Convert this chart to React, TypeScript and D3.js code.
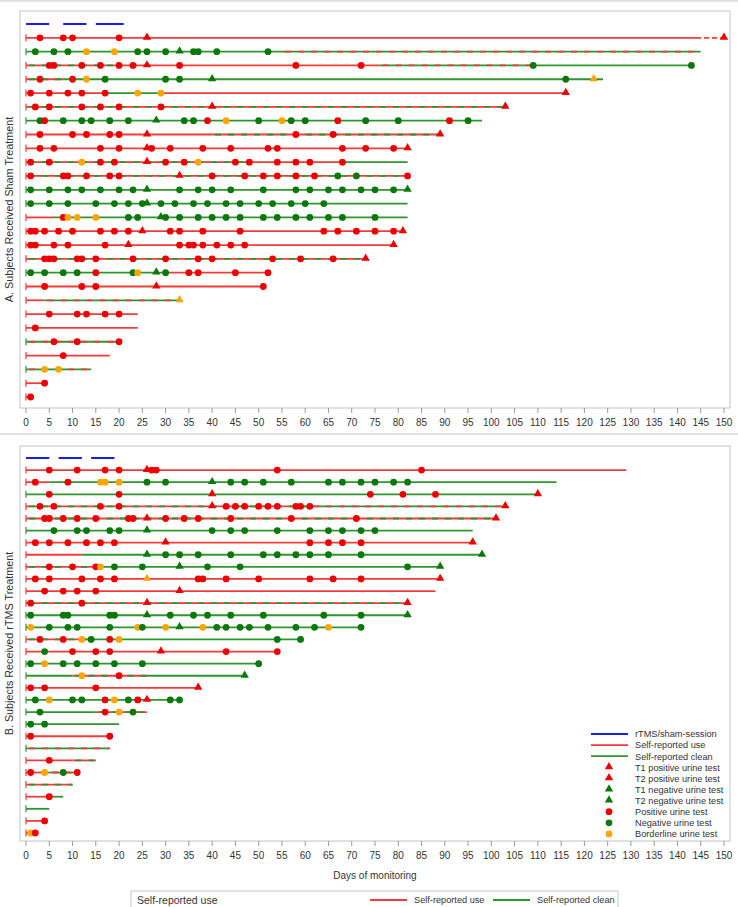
import * as d3 from "d3";

// rTMS / sham sessions (day ranges) drawn above the first subject
const shamSessions = [[0, 5], [8, 13], [15, 21]];
const rtmsSessions = [[0, 5], [7, 12], [14, 19]];

// line segments per subject: "from-to kind"  u=use, c=clean, m=clean w/ use dashes, n=use w/ clean dashes, d=dashed use
const shamSegs = [
  "0-144u 144-150d",
  "0-55c 55-145m",
  "0-20n 20-76u 76-110m 110-143c",
  "0-8n 8-124c",
  "0-17u 17-29c 29-116u",
  "0-103n",
  "0-98c",
  "0-40u 40-89n",
  "0-82u",
  "0-48n 48-68u 68-82c",
  "0-82n",
  "0-82c",
  "0-82c",
  "0-6u 6-82c",
  "0-81u",
  "0-79u",
  "0-73n",
  "0-30c 30-52u",
  "0-51u",
  "0-4u 4-33m",
  "0-24u",
  "0-24u",
  "0-20m",
  "0-18u",
  "0-14m",
  "0-4u",
  "0-1u",
];

// urine tests per subject: day + type (P pos, N neg, B borderline, T* = T1/T2 test)
const shamMarks = [
  "3P 8P 10P 20P 26TP 150TP",
  "2N 6N 9N 13B 19B 24N 26N 30N 33TN 36N 37N 41N 52N",
  "5P 6P 12P 16P 20P 23P 26TP 33P 58P 72P 109N 143N",
  "3P 10P 13B 17N 30N 33N 40TN 116N 122TB",
  "1P 5P 9P 12P 17P 24B 29B 116TP",
  "2P 5P 12P 16P 20P 29P 40TP 103TP",
  "3N 4P 8N 12N 14N 18N 22N 28TN 34N 36N 39P 43B 50N 55B 57N 60N 67P 73N 80N 91P 95N",
  "3P 10P 13P 18P 20P 26TP 58P 66P 89TP",
  "3P 6P 16P 20P 26TP 27P 31P 38P 44P 52P 54P 68P 73P 79P 82TP",
  "1P 5P 12B 16P 19P 26TP 30P 34P 37B 45P 48P 54P 58P 61P 68P",
  "1P 8P 9P 13P 18P 20P 33TP 40P 47P 51P 54P 58P 62P 67N 71N 82P",
  "1N 5N 9N 12N 16N 20N 23N 26TN 33N 37N 40N 44N 51N 58N 61N 65N 68N 72N 75N 79N 82TN",
  "1N 5N 9N 15N 19N 22N 25N 26TN 29N 32N 36N 39N 43N 46N 50N 53N 57N 60N 64N",
  "8P 9B 11B 15B 22N 24N 29TN 30N 33N 37N 40N 43N 46N 51N 54N 58N 61N 65N 68N 75N",
  "1P 2P 4P 7P 10P 16P 19P 22P 25TP 31P 33P 38P 46P 64P 67P 71P 75P 79P 81TP",
  "1P 2P 6P 9P 17P 22TP 33P 35P 36P 38P 41P 44P 47P 79TP",
  "4P 5P 6P 11P 12P 15P 23P 30P 37P 40P 53P 59P 66P 73TP",
  "1N 4N 8N 11N 15P 23N 24B 28TN 30N 35P 37P 45P 52P",
  "4P 12P 15P 28TP 51P",
  "33TB",
  "5P 11P 13P 17P 20P",
  "2P",
  "6P 11P 20P",
  "8P",
  "4B 7B",
  "4P",
  "1P",
];

const rtmsSegs = [
  "0-129u",
  "0-5u 5-114c",
  "0-110c",
  "0-61n 61-103m",
  "0-101n",
  "0-96c",
  "0-96u",
  "0-12u 12-98c",
  "0-15n 15-89c",
  "0-89u",
  "0-88u",
  "0-82n",
  "0-82c",
  "0-72c",
  "0-14n 14-59c",
  "0-54u",
  "0-50c",
  "0-10c 10-26n 26-47c",
  "0-37u",
  "0-33c",
  "0-15c 15-26n",
  "0-20c",
  "0-18u",
  "0-18m",
  "0-10u 10-15n",
  "0-5u 5-11m",
  "0-10n",
  "0-6u 6-8c",
  "0-5c",
  "0-4u",
  "0-2u",
];

const rtmsMarks = [
  "5P 11P 17P 20P 26TP 27P 28P 54P 85P",
  "2P 9P 16B 17B 20B 26N 30N 40TN 44N 47N 51N 57N 65N 68N 72N 75N 79N 82N",
  "5P 20P 40TP 74P 81P 88P 110TP",
  "3P 6P 16P 20P 40TP 43P 45P 47P 50P 52P 54P 58P 59P 61P 103TP",
  "4P 5P 8P 11P 15P 22P 23P 26TP 30P 34P 37P 44P 57P 71P 101TP",
  "6N 11N 13N 18N 20N 26TN 40N 44N 47N 54N 61N 65N 68N 72N 75N",
  "2P 5P 9P 13P 16P 19P 30TP 61P 65P 68P 72P 96TP",
  "26TN 30N 33N 37N 44N 51N 54N 58N 61N 65N 72N 98TN",
  "5P 10P 15P 16B 19N 25N 33TN 39N 46N 82N 89TN",
  "2P 5P 12P 16P 19P 26TB 37P 38P 43P 50P 61P 66P 72P 89TP",
  "4P 8P 11P 15P 33TP",
  "1P 12P 26TP 82TP",
  "1N 8N 9N 18N 19N 26TN 31N 36N 39N 44N 51N 64N 72N 82TN",
  "1B 5N 9N 11N 18N 24B 25N 30B 33TN 38B 41N 43N 46N 48N 52N 58N 62N 65B 72N",
  "3P 8P 12B 14N 18P 20B 54N 59N",
  "4N 10P 15P 18P 29TP 43P 54P",
  "1N 4B 8N 11N 15N 19N 25N 50N",
  "12B 20P 47TN",
  "1P 4P 15P 37TP",
  "2N 5B 10N 12N 17P 19B 22N 24P 26TP 31N 33N",
  "3N 17P 20B 23N",
  "1N 4N",
  "1P 18P",
  "",
  "5P",
  "1P 4B 8N 11P",
  "",
  "5P",
  "",
  "4P",
  "1B 2P",
];

const dayTicks = d3.range(0, 151, 5);

const legendItems = [
  { label: "rTMS/sham-session", kind: "blue" },
  { label: "Self-reported use", kind: "u" },
  { label: "Self-reported clean", kind: "c" },
  { label: "T1 positive urine test", kind: "TP" },
  { label: "T2 positive urine test", kind: "TP" },
  { label: "T1 negative urine test", kind: "TN" },
  { label: "T2 negative urine test", kind: "TN" },
  { label: "Positive urine test", kind: "P" },
  { label: "Negative urine test", kind: "N" },
  { label: "Borderline urine test", kind: "B" },
];

const RED_LINE = "#f43a3a";
const GREEN_LINE = "#2f952f";
const RED = "#ee0000";
const GREEN = "#0b780b";
const ORANGE = "#ffa500";
const BLUE = "#1c1cf0";
const FONT = "'Liberation Sans', Arial, sans-serif";

const x = d3.scaleLinear().domain([0, 150]).range([26, 724]);
const tri = d3.symbol(d3.symbolTriangle, 30)()!;

function parseSegs(s: string) {
  return s.split(" ").map((t) => {
    const m = /^([\d.]+)-([\d.]+)([a-z])$/.exec(t)!;
    return { a: +m[1], b: +m[2], k: m[3] };
  });
}

function parseMarks(s: string) {
  if (!s) return [];
  return s.split(" ").map((t) => {
    const m = /^([\d.]+)([A-Z]+)$/.exec(t)!;
    return { d: +m[1], t: m[2] };
  });
}

function markColor(t: string) {
  if (t.endsWith("P")) return RED;
  if (t.endsWith("N")) return GREEN;
  return ORANGE;
}

function Marker({ cx, cy, t }: { cx: number; cy: number; t: string }) {
  const fill = markColor(t);
  if (t.startsWith("T"))
    return <path d={tri} transform={`translate(${cx},${cy - 0.5})`} fill={fill} />;
  return <circle cx={cx} cy={cy} r={3.4} fill={fill} />;
}

function Segment({ a, b, k, y }: { a: number; b: number; k: string; y: number }) {
  const x1 = x(a);
  const x2 = x(b);
  const base = k === "c" || k === "m" ? GREEN_LINE : RED_LINE;
  const over = k === "m" ? RED_LINE : k === "n" ? GREEN_LINE : null;
  if (k === "d")
    return <line x1={x1} x2={x2} y1={y} y2={y} stroke={RED_LINE} strokeWidth={1.8} strokeDasharray="5,3" />;
  return (
    <g>
      <line x1={x1} x2={x2} y1={y} y2={y} stroke={base} strokeWidth={1.8} />
      {over && (
        <line x1={x1} x2={x2} y1={y} y2={y} stroke={over} strokeWidth={1.8} strokeDasharray="6,7" strokeDashoffset={-3} />
      )}
    </g>
  );
}

function Panel({
  top,
  bottom,
  sessions,
  segs,
  marks,
  rowTop,
  rowBottom,
  title,
}: {
  top: number;
  bottom: number;
  sessions: number[][];
  segs: string[];
  marks: string[];
  rowTop: number;
  rowBottom: number;
  title: string;
}) {
  const y = d3
    .scalePoint<string>()
    .domain(["s", ...segs.map((_, i) => String(i))])
    .range([rowTop, rowBottom]);
  const sy = y("s")!;
  return (
    <g>
      <rect x={20} y={top} width={710} height={bottom - top} fill="none" stroke="#c4c4c4" />
      <text
        transform={`translate(13,${(top + bottom) / 2}) rotate(-90)`}
        textAnchor="middle"
        fontSize={10.8}
        fill="#333"
      >
        {title}
      </text>
      {sessions.map(([a, b], i) => (
        <line key={i} x1={x(a)} x2={x(b)} y1={sy} y2={sy} stroke={BLUE} strokeWidth={2} />
      ))}
      {segs.map((s, i) => {
        const yy = y(String(i))!;
        const parts = parseSegs(s);
        const first = parts[0].k === "c" || parts[0].k === "m" ? GREEN_LINE : RED_LINE;
        return (
          <g key={i}>
            <line x1={x(0)} x2={x(0)} y1={yy - 3.5} y2={yy + 3.5} stroke={first} strokeWidth={1.2} />
            {parts.map((p, j) => (
              <Segment key={j} a={p.a} b={p.b} k={p.k} y={yy} />
            ))}
          </g>
        );
      })}
      {marks.map((s, i) => {
        const yy = y(String(i))!;
        return (
          <g key={i}>
            {parseMarks(s).map((m, j) => (
              <Marker key={j} cx={x(m.d)} cy={yy} t={m.t} />
            ))}
          </g>
        );
      })}
      {dayTicks.map((t) => (
        <g key={t} transform={`translate(${x(t)},${bottom})`}>
          <line y1={0} y2={5} stroke="#999" />
          <text y={18} textAnchor="middle" fontSize={10} fill="#333">
            {t}
          </text>
        </g>
      ))}
    </g>
  );
}

export default function App() {
  return (
    <svg
      width={738}
      height={907}
      style={{ position: "absolute", left: 0, top: 0, display: "block" }}
      fontFamily={FONT}
    >
      <rect width={738} height={907} fill="#fff" />
      <line x1={0} x2={738} y1={1} y2={1} stroke="#d8d8d8" strokeWidth={1.5} />
      <line x1={0} x2={738} y1={434} y2={434} stroke="#d8d8d8" strokeWidth={1.5} />
      <Panel
        top={11}
        bottom={408}
        sessions={shamSessions}
        segs={shamSegs}
        marks={shamMarks}
        rowTop={24}
        rowBottom={397}
        title="A. Subjects Received Sham Treatment"
      />
      <Panel
        top={446}
        bottom={841}
        sessions={rtmsSessions}
        segs={rtmsSegs}
        marks={rtmsMarks}
        rowTop={458}
        rowBottom={833}
        title="B. Subjects Received rTMS Treatment"
      />
      {legendItems.map((it, i) => {
        const ly = 734 + i * 11.1;
        return (
          <g key={i}>
            {it.kind === "blue" || it.kind === "u" || it.kind === "c" ? (
              <line
                x1={591}
                x2={628}
                y1={ly}
                y2={ly}
                stroke={it.kind === "blue" ? BLUE : it.kind === "u" ? RED_LINE : GREEN_LINE}
                strokeWidth={1.8}
              />
            ) : (
              <Marker cx={609} cy={ly} t={it.kind} />
            )}
            <text x={635} y={ly + 3.3} fontSize={9.2} fill="#333">
              {it.label}
            </text>
          </g>
        );
      })}
      <text x={x(75)} y={879} textAnchor="middle" fontSize={10} fill="#333">
        Days of monitoring
      </text>
      <rect x={131} y={891} width={487} height={20} fill="#fff" stroke="#c4c4c4" />
      <text x={137} y={904} fontSize={10.5} fill="#333">
        Self-reported use
      </text>
      <line x1={370} x2={407} y1={900} y2={900} stroke={RED_LINE} strokeWidth={1.8} />
      <text x={414} y={903.3} fontSize={9.2} fill="#333">
        Self-reported use
      </text>
      <line x1={493} x2={530} y1={900} y2={900} stroke={GREEN_LINE} strokeWidth={1.8} />
      <text x={537} y={903.3} fontSize={9.2} fill="#333">
        Self-reported clean
      </text>
    </svg>
  );
}
